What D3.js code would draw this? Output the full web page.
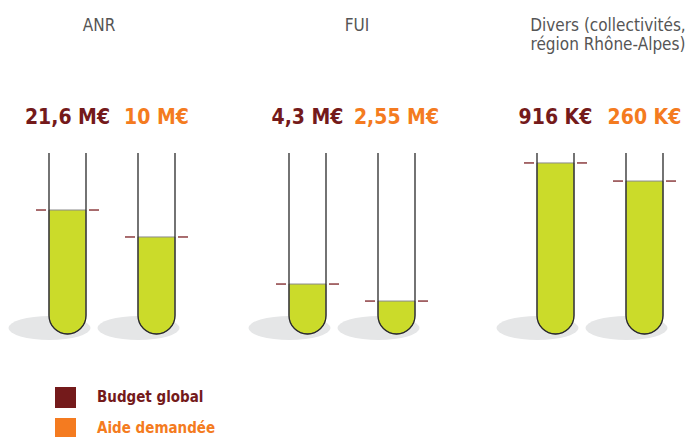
<!DOCTYPE html>
<meta charset="utf-8">
<head>
<script src="https://d3js.org/d3.v7.min.js"></script>
<style>
  body { margin: 0; background: #fff; }
  text { font-family: "DejaVu Sans Condensed", "Liberation Sans Narrow", "Roboto", sans-serif; }
</style>
</head>
<body>
<div id="tubes"></div>
<script>
// data
var groups = ["ANR", "FUI", "Divers"];
var groupTitles = [["ANR"], ["FUI"], ["Divers (collectivités,", "région Rhône-Alpes)"]];
var series = ["Budget global", "Aide demandée"];
var budgetLabels = ["21,6 M€", "4,3 M€", "916 K€"];
var aideLabels = ["10 M€", "2,55 M€", "260 K€"];
// fill level of each tube, in % of tube height
var budgetFill = [68.5, 27.6, 94.5];
var aideFill = [53.6, 18.2, 84.5];

var width = 686, height = 437;
var tubeTop = 153, tubeBottom = 334, tubeW = 37, r = tubeW / 2;
var colors = { "Budget global": "#741a1b", "Aide demandée": "#f47b20" };

var svg = d3.select("#tubes")
  .append("svg")
    .attr("width", width)
    .attr("height", height);

var x0 = d3.scaleOrdinal().domain(groups).range([112, 352, 600]);
var x1 = d3.scalePoint().domain(series).range([-44.5, 44.5]);
var y = d3.scaleLinear().domain([0, 100]).range([tubeBottom, tubeTop]);

var data = [];
groups.forEach(function(g, i) {
  data.push({ group: g, serie: series[0], label: budgetLabels[i], fill: budgetFill[i] });
  data.push({ group: g, serie: series[1], label: aideLabels[i], fill: aideFill[i] });
});

function cx(d) { return x0(d.group) + x1(d.serie); }

// group titles
var titleX = { "ANR": 99, "FUI": 357, "Divers": 608 };
groups.forEach(function(g, i) {
  var t = svg.append("text")
    .attr("x", titleX[g])
    .attr("y", 31)
    .attr("text-anchor", "middle")
    .attr("fill", "#555")
    .style("font-size", "17px");
  groupTitles[i].forEach(function(line, j) {
    t.append("tspan").attr("x", titleX[g]).attr("dy", j ? 19 : 0).text(line);
  });
});

// value labels
svg.selectAll(".val")
  .data(data)
  .enter()
  .append("text")
    .attr("class", "val")
    .attr("x", cx)
    .attr("y", 124)
    .attr("text-anchor", "middle")
    .attr("fill", function(d) { return colors[d.serie]; })
    .style("font-size", "21px")
    .style("font-weight", "bold")
    .text(function(d) { return d.label; });

// shadows
svg.selectAll(".shadow")
  .data(data)
  .enter()
  .append("ellipse")
    .attr("cx", function(d) { return cx(d) - 18; })
    .attr("cy", 328)
    .attr("rx", 41)
    .attr("ry", 12)
    .attr("fill", "#e5e6e7");

// liquid
svg.selectAll(".liquid")
  .data(data)
  .enter()
  .append("path")
    .attr("d", function(d) {
      var l = cx(d) - r, rt = cx(d) + r, yf = y(d.fill);
      return "M" + l + "," + yf + "L" + l + "," + (tubeBottom - r) +
        "A" + r + "," + r + " 0 0 0 " + rt + "," + (tubeBottom - r) +
        "L" + rt + "," + yf + "Z";
    })
    .attr("fill", "#cbdb2a")
    .attr("stroke", "#8a8a8a")
    .attr("stroke-width", 1);

// glass
svg.selectAll(".glass")
  .data(data)
  .enter()
  .append("path")
    .attr("d", function(d) {
      var l = cx(d) - r, rt = cx(d) + r;
      return "M" + l + "," + tubeTop + "L" + l + "," + (tubeBottom - r) +
        "A" + r + "," + r + " 0 0 0 " + rt + "," + (tubeBottom - r) +
        "L" + rt + "," + tubeTop;
    })
    .attr("fill", "none")
    .attr("stroke", "#2a2a2a")
    .attr("stroke-width", 1.3);

// level marks
data.forEach(function(d) {
  [-1, 1].forEach(function(s) {
    svg.append("line")
      .attr("x1", cx(d) + s * (r + 3))
      .attr("x2", cx(d) + s * (r + 13))
      .attr("y1", y(d.fill))
      .attr("y2", y(d.fill))
      .attr("stroke", "#7a1f22")
      .attr("stroke-width", 1.3);
  });
});

// legend
var legend = svg.selectAll(".legend")
  .data(series)
  .enter()
  .append("g")
    .attr("transform", function(d, i) { return "translate(55," + (387 + i * 31) + ")"; });
legend.append("rect")
  .attr("width", 21)
  .attr("height", 21)
  .attr("fill", function(d) { return colors[d]; });
legend.append("text")
  .attr("x", 42)
  .attr("y", 15)
  .attr("fill", function(d) { return colors[d]; })
  .style("font-size", "15px")
  .style("font-weight", "bold")
  .text(function(d) { return d; });
</script>
</body>
